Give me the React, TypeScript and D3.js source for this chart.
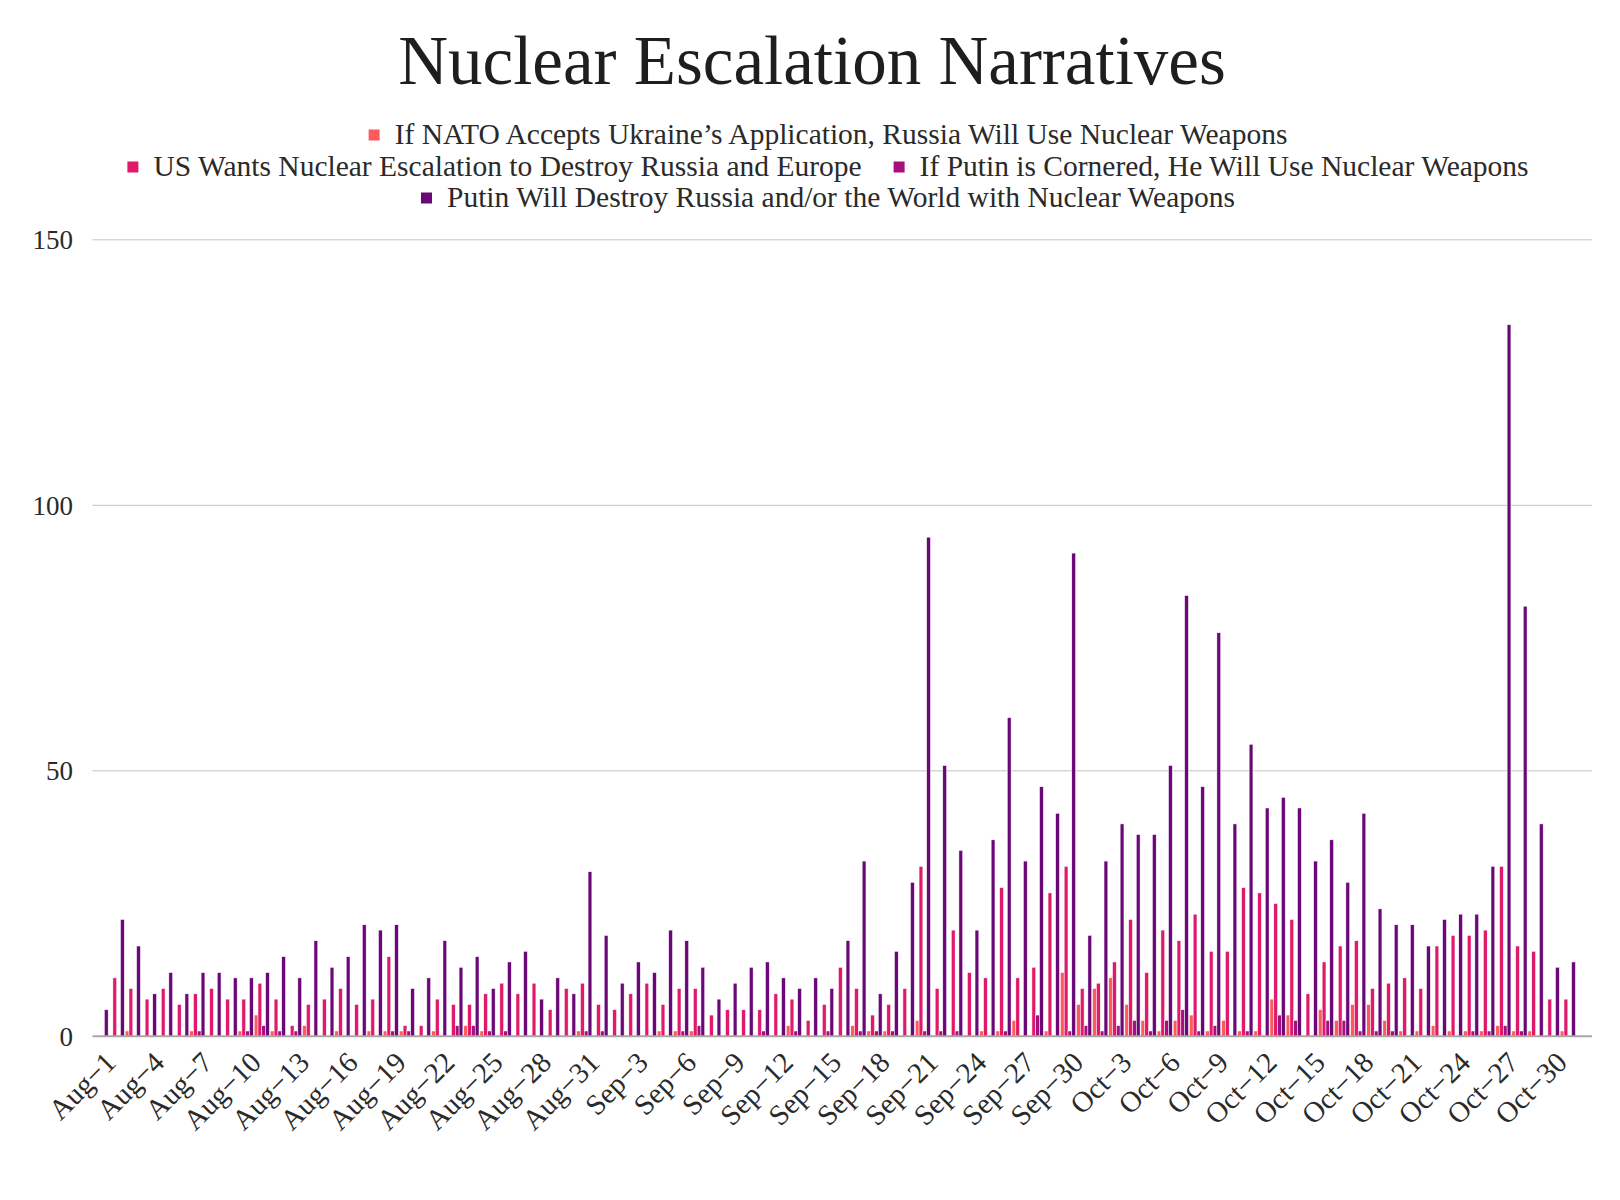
import { useEffect, useRef } from "react";
import * as d3 from "d3";

const width = 1620;
const height = 1200;
const plot = { left: 92.5, right: 1592, top: 239.8, bottom: 1036.3 };
const fontFamily = "'Liberation Serif', 'Times New Roman', serif";

// Aug-1 .. Nov-1 (last day has no data)
const days = d3.timeDay.range(new Date(2022, 7, 1), new Date(2022, 10, 2));

const seriesNames = [
  "If NATO Accepts Ukraine’s Application, Russia Will Use Nuclear Weapons",
  "US Wants Nuclear Escalation to Destroy Russia and Europe",
  "If Putin is Cornered, He Will Use Nuclear Weapons",
  "Putin Will Destroy Russia and/or the World with Nuclear Weapons",
];
const seriesColors = ["#fb5b5b", "#e0196a", "#a70f7d", "#6a0877"];

// Aug-1 .. Oct-31
const natoAccepts = [
  0, 0, 1, 0, 0, 0, 1, 0, 0, 1,
  4, 1, 0, 2, 0, 1, 0, 1, 1, 1,
  0, 1, 0, 2, 1, 0, 0, 0, 0, 0,
  1, 0, 0, 0, 0, 1, 1, 1, 0, 0,
  0, 0, 0, 2, 0, 0, 0, 2, 1, 1,
  0, 3, 0, 0, 0, 1, 1, 3, 0, 1,
  12, 6, 9, 11, 6, 3, 1, 3, 4, 1,
  3, 1, 1, 7, 4, 0, 5, 3, 6, 6,
  3, 1, 1, 2, 1, 1, 1, 2, 1, 1,
  0, 1,
];
const usWantsEscalation = [
  0, 11, 9, 7, 9, 6, 8, 9, 7, 7,
  10, 7, 2, 6, 7, 9, 6, 7, 15, 2,
  2, 7, 6, 6, 8, 10, 8, 10, 5, 9,
  10, 6, 5, 8, 10, 6, 9, 9, 4, 5,
  5, 5, 8, 7, 3, 6, 13, 9, 4, 6,
  9, 32, 9, 20, 12, 11, 28, 11, 13, 27,
  32, 9, 10, 14, 22, 12, 20, 18, 23, 16,
  16, 28, 27, 25, 22, 8, 14, 17, 18, 9,
  10, 11, 9, 17, 19, 19, 20, 32, 17, 16,
  7, 7,
];
const putinCornered = [
  0, 0, 0, 0, 0, 0, 1, 0, 0, 1,
  2, 1, 1, 0, 0, 0, 0, 0, 1, 1,
  0, 0, 2, 2, 1, 1, 0, 0, 0, 0,
  1, 1, 0, 0, 0, 0, 1, 2, 0, 0,
  0, 1, 0, 1, 0, 1, 0, 1, 1, 1,
  0, 1, 1, 1, 0, 0, 1, 0, 4, 0,
  1, 2, 1, 2, 3, 1, 3, 5, 1, 2,
  0, 1, 0, 4, 3, 0, 3, 3, 1, 1,
  1, 0, 0, 0, 0, 1, 1, 2, 1, 0,
  0, 0,
];
const putinDestroys = [
  5, 22, 17, 8, 12, 8, 12, 12, 11, 11,
  12, 15, 11, 18, 13, 15, 21, 20, 21, 9,
  11, 18, 13, 15, 9, 14, 16, 7, 11, 8,
  31, 19, 10, 14, 12, 20, 18, 13, 7, 10,
  13, 14, 11, 9, 11, 9, 18, 33, 8, 16,
  29, 94, 51, 35, 20, 37, 60, 33, 47, 42,
  91, 19, 33, 40, 38, 38, 51, 83, 47, 76,
  40, 55, 43, 45, 43, 33, 37, 29, 42, 24,
  21, 21, 17, 22, 23, 23, 32, 134, 81, 40,
  13, 14,
];

const seriesValues = [natoAccepts, usWantsEscalation, putinCornered, putinDestroys];
const yTicks = [0, 50, 100, 150];
const legendRows = [[0], [1, 2], [3]];

const dayLabel = (d: Date) => `${d3.timeFormat("%b")(d)}\u2212${d.getDate()}`;

export default function App() {
  const svgRef = useRef<SVGSVGElement | null>(null);

  useEffect(() => {
    if (!svgRef.current) return;
    const svg = d3.select(svgRef.current);
    svg.selectAll("*").remove();

    const keys = days.map((d) => d3.timeFormat("%Y-%m-%d")(d));

    const x = d3
      .scaleBand()
      .domain(keys)
      .range([plot.left, plot.right])
      .paddingInner(0.057)
      .paddingOuter(0.0285);

    const xs = d3
      .scaleBand<number>()
      .domain(d3.range(seriesNames.length))
      .range([0, x.bandwidth()]);

    const y = d3.scaleLinear().domain([0, 150]).range([plot.bottom, plot.top]);

    // grid
    svg
      .append("g")
      .selectAll("line")
      .data(yTicks.filter((t) => t > 0))
      .join("line")
      .attr("x1", plot.left)
      .attr("x2", plot.right)
      .attr("y1", (d) => y(d))
      .attr("y2", (d) => y(d))
      .attr("stroke", "#c4c4c4")
      .attr("stroke-width", 1);

    // bars
    const flat = seriesValues.flatMap((vals, s) =>
      vals.map((v, i) => ({ s, key: keys[i], v })),
    );
    svg
      .append("g")
      .selectAll("rect")
      .data(flat.filter((d) => d.v > 0))
      .join("rect")
      .attr("x", (d) => (x(d.key) ?? 0) + (xs(d.s) ?? 0))
      .attr("y", (d) => y(d.v))
      .attr("width", xs.bandwidth())
      .attr("height", (d) => y(0) - y(d.v))
      .attr("fill", (d) => seriesColors[d.s])
      .attr("stroke", "#ffffff")
      .attr("stroke-width", 0.5);

    // zero line
    svg
      .append("line")
      .attr("x1", plot.left)
      .attr("x2", plot.right)
      .attr("y1", y(0))
      .attr("y2", y(0))
      .attr("stroke", "#a8a8a8")
      .attr("stroke-width", 2);

    // y tick labels
    svg
      .append("g")
      .selectAll("text")
      .data(yTicks)
      .join("text")
      .attr("x", 73)
      .attr("y", (d) => y(d))
      .attr("dy", "0.35em")
      .attr("text-anchor", "end")
      .attr("font-family", fontFamily)
      .attr("font-size", 27)
      .attr("fill", "#2a2a2a")
      .text((d) => d);

    // x tick labels, every third day
    const tickDays = days.filter((_, i) => i % 3 === 0 && i <= 90);
    svg
      .append("g")
      .selectAll("text")
      .data(tickDays)
      .join("text")
      .attr("transform", (d) => {
        const key = d3.timeFormat("%Y-%m-%d")(d);
        const cx = (x(key) ?? 0) + x.bandwidth() / 2;
        return `translate(${cx + 17},${y(0) + 28}) rotate(-45)`;
      })
      .attr("text-anchor", "end")
      .attr("font-family", fontFamily)
      .attr("font-size", 29)
      .attr("fill", "#2a2a2a")
      .text((d) => dayLabel(d));

    // title
    svg
      .append("text")
      .attr("x", 812)
      .attr("y", 84)
      .attr("text-anchor", "middle")
      .attr("font-family", fontFamily)
      .attr("font-size", 69)
      .attr("fill", "#1e1e1e")
      .text("Nuclear Escalation Narratives");

    // legend
    const legend = svg.append("g");
    const rowBaselines = [144, 176, 207];
    const markerSize = 11;
    const markerGap = 15;
    const itemGap = 32;
    legendRows.forEach((row, r) => {
      const rowG = legend.append("g");
      let cursor = 0;
      row.forEach((s) => {
        const item = rowG.append("g").attr("transform", `translate(${cursor},0)`);
        item
          .append("rect")
          .attr("x", 0)
          .attr("y", rowBaselines[r] - 9 - markerSize / 2)
          .attr("width", markerSize)
          .attr("height", markerSize)
          .attr("fill", seriesColors[s]);
        const label = item
          .append("text")
          .attr("x", markerSize + markerGap)
          .attr("y", rowBaselines[r])
          .attr("font-family", fontFamily)
          .attr("font-size", 29.5)
          .attr("fill", "#2a2a2a")
          .text(seriesNames[s]);
        const len = (label.node() as SVGTextElement).getComputedTextLength();
        cursor += markerSize + markerGap + len + itemGap;
      });
      const rowWidth = cursor - itemGap;
      rowG.attr("transform", `translate(${828 - rowWidth / 2},0)`);
    });
  }, []);

  return (
    <div style={{ position: "absolute", left: 0, top: 0, background: "#ffffff" }}>
      <svg ref={svgRef} width={width} height={height} style={{ display: "block" }} />
    </div>
  );
}
